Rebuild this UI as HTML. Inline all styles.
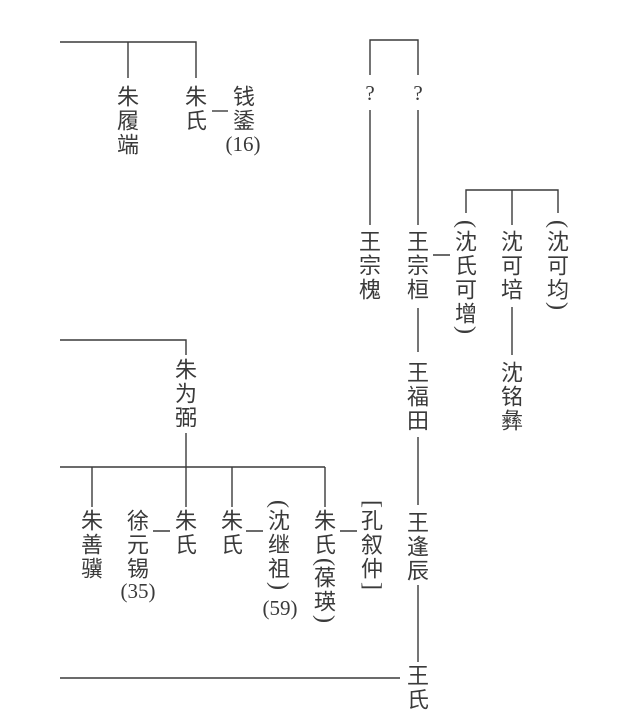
<!DOCTYPE html>
<html><head><meta charset="utf-8"><style>
html,body{margin:0;padding:0;background:#fff;}
svg{display:block}
text{font-family:"Liberation Serif","Noto Sans CJK SC",serif;font-size:22px;fill:#3a3a3a;text-anchor:middle;dominant-baseline:central}
.n{font-family:"Liberation Serif",serif;font-size:21px}
.p{font-family:"Liberation Serif",serif;font-size:24px}
line,polyline{stroke:#3a3a3a;stroke-width:1.4;fill:none}
</style></head><body>
<svg width="621" height="718" viewBox="0 0 621 718">
<!-- top left -->
<polyline points="60,42 196,42 196,78"/>
<line x1="128" y1="42" x2="128" y2="78"/>
<text x="128" y="97">朱</text><text x="128" y="121">履</text><text x="128" y="145">端</text>
<text x="196" y="97">朱</text><text x="196" y="121">氏</text>
<line x1="212" y1="111" x2="228" y2="111"/>
<text x="244" y="97">钱</text><text x="244" y="121">鋈</text>
<text class="n" x="243" y="144">(16)</text>
<!-- top right -->
<polyline points="370,75 370,40 418,40 418,75"/>
<text class="n" x="370" y="93">?</text><text class="n" x="418" y="93">?</text>
<line x1="370" y1="110" x2="370" y2="225"/>
<line x1="418" y1="110" x2="418" y2="225"/>
<text x="370" y="242">王</text><text x="370" y="266">宗</text><text x="370" y="290">槐</text>
<text x="418" y="242">王</text><text x="418" y="266">宗</text><text x="418" y="290">桓</text>
<line x1="433" y1="255" x2="450" y2="255"/>
<polyline points="466,213 466,190 558,190 558,213"/>
<line x1="512" y1="190" x2="512" y2="225"/>
<text class="p" transform="translate(466,224) rotate(90)">(</text><text x="466" y="242">沈</text><text x="466" y="266">氏</text><text x="466" y="290">可</text><text x="466" y="314">增</text><text class="p" transform="translate(466,330) rotate(90)">)</text>
<text x="512" y="242">沈</text><text x="512" y="266">可</text><text x="512" y="290">培</text>
<text class="p" transform="translate(558,224) rotate(90)">(</text><text x="558" y="242">沈</text><text x="558" y="266">可</text><text x="558" y="290">均</text><text class="p" transform="translate(558,306) rotate(90)">)</text>
<line x1="418" y1="308" x2="418" y2="352"/>
<line x1="512" y1="307" x2="512" y2="355"/>
<text x="418" y="373">王</text><text x="418" y="397">福</text><text x="418" y="421">田</text>
<text x="512" y="373">沈</text><text x="512" y="397">铭</text><text x="512" y="421">彝</text>
<!-- bottom -->
<polyline points="60,340 186,340 186,355"/>
<text x="186" y="370">朱</text><text x="186" y="394">为</text><text x="186" y="418">弼</text>
<line x1="186" y1="433" x2="186" y2="507"/>
<line x1="60" y1="467" x2="325" y2="467"/>
<line x1="92" y1="467" x2="92" y2="507"/>
<line x1="232" y1="467" x2="232" y2="507"/>
<line x1="325" y1="467" x2="325" y2="507"/>
<text x="92" y="521">朱</text><text x="92" y="545">善</text><text x="92" y="569">骥</text>
<text x="138" y="521">徐</text><text x="138" y="545">元</text><text x="138" y="569">锡</text>
<text class="n" x="138" y="591">(35)</text>
<line x1="153" y1="531" x2="170" y2="531"/>
<text x="186" y="521">朱</text><text x="186" y="545">氏</text>
<text x="232" y="521">朱</text><text x="232" y="545">氏</text>
<line x1="246" y1="531" x2="263" y2="531"/>
<text class="p" transform="translate(279,504) rotate(90)">(</text><text x="279" y="521">沈</text><text x="279" y="545">继</text><text x="279" y="569">祖</text><text class="p" transform="translate(279,586) rotate(90)">)</text>
<text class="n" x="280" y="608">(59)</text>
<text x="325" y="521">朱</text><text x="325" y="545">氏</text><text class="p" transform="translate(325,562) rotate(90)">(</text><text x="325" y="578">葆</text><text x="325" y="602">瑛</text><text class="p" transform="translate(325,619) rotate(90)">)</text>
<line x1="340" y1="531" x2="357" y2="531"/>
<text class="p" transform="translate(372,504) rotate(90)">[</text><text x="372" y="521">孔</text><text x="372" y="545">叙</text><text x="372" y="569">仲</text><text class="p" transform="translate(372,586) rotate(90)">]</text>
<line x1="418" y1="437" x2="418" y2="505"/>
<text x="418" y="523">王</text><text x="418" y="547">逢</text><text x="418" y="571">辰</text>
<line x1="418" y1="585" x2="418" y2="662"/>
<line x1="60" y1="678" x2="400" y2="678"/>
<text x="418" y="676">王</text><text x="418" y="700">氏</text>
</svg>
</body></html>
